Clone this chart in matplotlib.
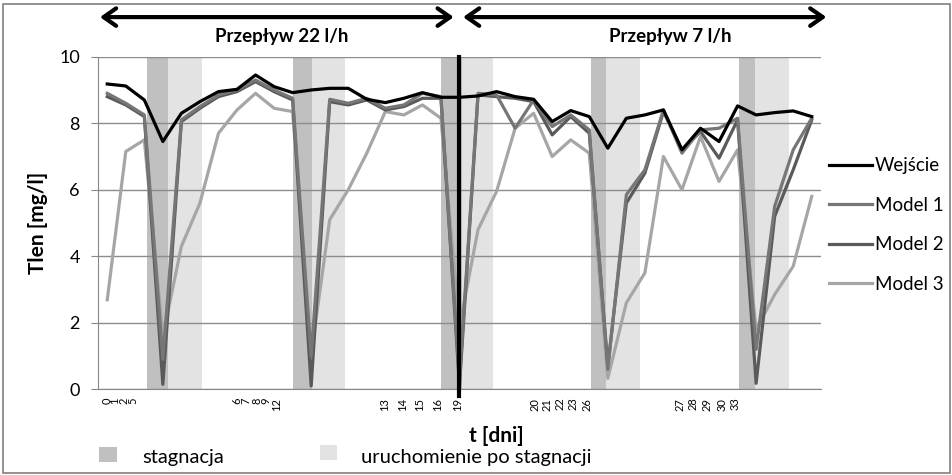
import numpy as np
import matplotlib
matplotlib.use("Agg")
import matplotlib.pyplot as plt
from matplotlib.patches import Rectangle, FancyArrowPatch

plt.rcParams['font.family'] = ['Lato', 'DejaVu Sans']

# pomiary tlenu (punkty pomiarowe po kolei)
wejscie = [9.18, 9.12, 8.7, 7.45, 8.3, 8.65, 8.95, 9.02, 9.45, 9.1,
           8.92, 9.0, 9.05, 9.05, 8.72, 8.62, 8.75, 8.92, 8.78, 8.78,
           8.82, 8.95, 8.8, 8.72, 8.05, 8.38, 8.2, 7.25, 8.15, 8.25,
           8.4, 7.2, 7.85, 7.45, 8.52, 8.25, 8.32, 8.37, 8.2]
model1 = [8.9, 8.6, 8.25, 0.9, 8.1, 8.5, 8.85, 9.0, 9.3, 9.0,
          8.75, 1.0, 8.72, 8.6, 8.75, 8.45, 8.55, 8.9, 8.8, 0.3,
          8.9, 8.85, 7.85, 8.7, 7.9, 8.25, 7.8, 0.6, 5.85, 6.6,
          8.4, 7.1, 7.8, 7.85, 8.15, 1.2, 5.5, 7.2, 8.15]
model2 = [8.8, 8.55, 8.2, 0.15, 8.05, 8.45, 8.8, 8.95, 9.25, 8.95,
          8.7, 0.1, 8.65, 8.55, 8.7, 8.4, 8.5, 8.75, 8.75, 0.1,
          8.85, 8.8, 8.75, 8.65, 7.65, 8.2, 7.7, 0.7, 5.6, 6.5,
          8.35, 7.2, 7.75, 6.95, 8.1, 0.18, 5.2, 6.6, 8.1]
model3 = [2.69, 7.15, 7.5, 1.6, 4.3, 5.6, 7.7, 8.4, 8.9, 8.45,
          8.35, 1.05, 5.1, 6.0, 7.1, 8.35, 8.25, 8.55, 8.15, 1.9,
          4.8, 5.95, 7.85, 8.3, 7.0, 7.5, 7.1, 0.33, 2.6, 3.5,
          7.0, 6.0, 7.6, 6.25, 7.2, 1.8, 2.85, 3.7, 5.8]

dni = ['0', '1', '2', '5', '6', '7', '8', '9', '12', '13', '14', '15', '16', '19',
       '20', '21', '22', '23', '26', '27', '28', '29', '30', '33']
dni_poz = [0.0, 0.42, 0.88, 1.37, 6.98, 7.48, 8.06, 8.54, 9.14, 14.98, 15.95, 16.87,
           17.84, 18.92, 23.07, 23.7, 24.42, 25.12, 25.86, 30.89, 31.59, 32.33, 33.14, 33.86]

# okresy stagnacji i rozruchu (w jednostkach punktow)
stagnacja = [(2.16, 3.29), (10.03, 11.02), (18.0, 19.15), (26.09, 26.89), (34.06, 34.92)]
rozruch = [(3.29, 5.11), (11.02, 12.83), (19.15, 20.82), (26.89, 28.73), (34.92, 36.77)]
zmiana_przeplywu = 19

x = np.arange(len(wejscie))

fig = plt.figure(figsize=(9.53, 4.75), dpi=100)
ax = fig.add_axes([0.1028, 0.1804, 0.7587, 0.7002])

for a, b in stagnacja:
    ax.axvspan(a, b, color='#c0c0c0', lw=0, zorder=0.2)
for a, b in rozruch:
    ax.axvspan(a, b, color='#e3e3e3', lw=0, zorder=0.2)

ax.plot(x, model3, color='#a6a6a6', lw=2.3, label='Model 3', zorder=2)
ax.plot(x, model2, color='#5a5a5a', lw=2.3, label='Model 2', zorder=3)
ax.plot(x, model1, color='#767676', lw=2.3, label='Model 1', zorder=4)
ax.plot(x, wejscie, color='black', lw=2.3, label='Wejście', zorder=5)
ax.plot([zmiana_przeplywu, zmiana_przeplywu], [-0.2, 10], color='black', lw=3, clip_on=False, zorder=6)

ax.set_xlim(-0.5, 38.5)
ax.set_ylim(0, 10)
ax.set_yticks(np.arange(0, 11, 2))
ax.set_xticks(dni_poz)
ax.set_xticklabels(dni, rotation=90, fontsize=8)
ax.tick_params(axis='x', length=0, pad=6)
ax.tick_params(axis='y', length=5, color='#888888', labelsize=13, pad=8)
ax.grid(axis='y', color='#8c8c8c', lw=1)
ax.set_axisbelow(True)
for s in ['top', 'right']:
    ax.spines[s].set_visible(False)
for s in ['left', 'bottom']:
    ax.spines[s].set_color('#888888')

h, l = ax.get_legend_handles_labels()
fig.legend(h[::-1], l[::-1], loc='upper left', bbox_to_anchor=(0.862, 0.685), frameon=False,
           fontsize=13.5, handlelength=2.3, handletextpad=0.15, labelspacing=1.2, borderaxespad=0)

fig.text(0.04, 0.53, 'Tlen [mg/l]', rotation=90, ha='center', va='center', fontsize=15, fontweight='bold')
fig.text(0.521, 0.082, 't [dni]', ha='center', va='center', fontsize=15, fontweight='bold')

# strzalki przeplywu
for x0, x1 in [(0.102, 0.479), (0.483, 0.870)]:
    fig.add_artist(FancyArrowPatch((x0, 0.964), (x1, 0.964), transform=fig.transFigure,
                   arrowstyle='<->,head_length=0.5,head_width=0.35', mutation_scale=18, lw=3, color='black'))
fig.text(0.296, 0.924, 'Przepływ 22 l/h', ha='center', va='center', fontsize=13.5, fontweight='bold')
fig.text(0.703, 0.924, 'Przepływ 7 l/h', ha='center', va='center', fontsize=13.5, fontweight='bold')

# legenda dolna
fig.add_artist(Rectangle((0.104, 0.028), 0.019, 0.032, transform=fig.transFigure, color='#c0c0c0', lw=0))
fig.text(0.149, 0.036, 'stagnacja', ha='left', va='center', fontsize=14.5)
fig.add_artist(Rectangle((0.336, 0.031), 0.018, 0.032, transform=fig.transFigure, color='#e3e3e3', lw=0))
fig.text(0.379, 0.036, 'uruchomienie po stagnacji', ha='left', va='center', fontsize=14.5)

fig.add_artist(Rectangle((0.003, 0.005), 0.994, 0.987, transform=fig.transFigure, fill=False, ec='#808080', lw=1.2))

fig.savefig('out.png', dpi=100)
